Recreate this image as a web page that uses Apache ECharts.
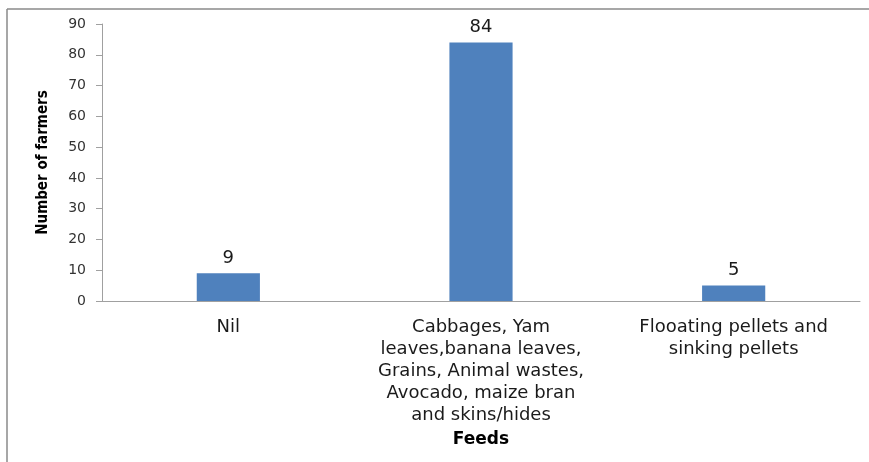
<!DOCTYPE html>
<html>
<head>
<meta charset="utf-8">
<script src="https://cdn.jsdelivr.net/npm/echarts@6/dist/echarts.min.js"></script>
<style>
  html, body { margin: 0; padding: 0; background: #fff; }
  #chart { width: 869px; height: 462px; }
</style>
</head>
<body>
<div id="chart"></div>
<script>
// Feed types used by the farmers and how many farmers use each
const feedCategories = [
  'Nil',
  'Cabbages, Yam\nleaves,banana leaves,\nGrains, Animal wastes,\nAvocado, maize bran\nand skins/hides',
  'Flooating pellets and\nsinking pellets'
];
const farmerCounts = [9, 84, 5];
const yTicks = { min: 0, max: 90, interval: 10 };

const labelFont = '"DejaVu Sans"';

const chart = echarts.init(document.getElementById('chart'), null, { renderer: 'canvas' });
chart.setOption({
  animation: false,
  backgroundColor: '#fff',
  grid: { left: 102, right: 9, top: 24, bottom: 161, containLabel: false },
  graphic: [
    { type: 'line', shape: { x1: 7, y1: 9, x2: 869, y2: 9 }, style: { stroke: '#8a8a8a', lineWidth: 1.5 } },
    { type: 'line', shape: { x1: 7, y1: 9, x2: 7, y2: 462 }, style: { stroke: '#8a8a8a', lineWidth: 1.5 } }
  ],
  xAxis: {
    type: 'category',
    data: feedCategories,
    name: 'Feeds',
    nameLocation: 'middle',
    nameGap: 130,
    nameTextStyle: { fontFamily: labelFont, fontWeight: 'bold', fontSize: 17, color: '#000' },
    axisLine: { lineStyle: { color: '#a0a0a0', width: 1 } },
    axisTick: { show: false },
    axisLabel: {
      interval: 0,
      margin: 15,
      fontFamily: labelFont,
      fontSize: 18,
      lineHeight: 22,
      color: '#1a1a1a',
      align: 'center'
    }
  },
  yAxis: {
    type: 'value',
    min: yTicks.min,
    max: yTicks.max,
    interval: yTicks.interval,
    name: 'Number of farmers',
    nameLocation: 'middle',
    nameGap: 51,
    nameTextStyle: { fontFamily: '"DejaVu Sans Condensed"', fontWeight: 'bold', fontSize: 15, color: '#000' },
    axisLine: { show: true, lineStyle: { color: '#a0a0a0', width: 1 } },
    axisTick: { show: true, inside: false, length: 6, lineStyle: { color: '#a0a0a0' } },
    axisLabel: { fontFamily: labelFont, fontSize: 14, color: '#333', margin: 16 },
    splitLine: { show: false }
  },
  series: [{
    type: 'bar',
    data: farmerCounts,
    barWidth: '25%',
    itemStyle: { color: '#4F81BD' },
    label: {
      show: true,
      position: 'top',
      distance: 6,
      fontFamily: labelFont,
      fontSize: 18,
      color: '#1a1a1a'
    }
  }]
});
</script>
</body>
</html>
